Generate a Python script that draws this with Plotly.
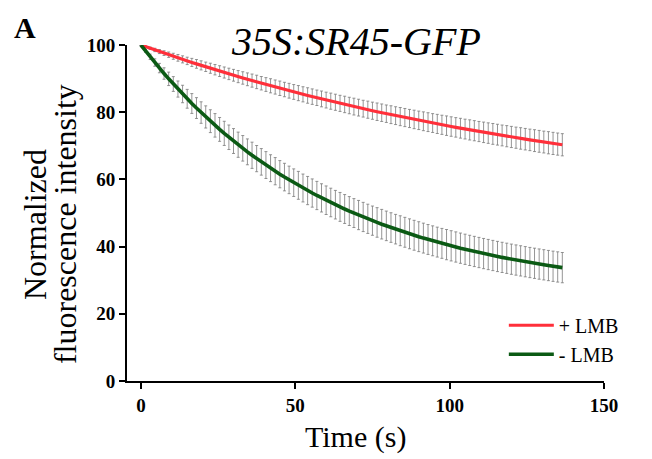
import plotly.graph_objects as go

# Time points (s)
time_s = [round(1.5 * k, 1) for k in range(92)]

# + LMB (red) mean values
plus_lmb = [100.0, 99.51, 99.02, 98.53, 98.05, 97.58, 97.11, 96.64, 96.18, 95.72,
            95.27, 94.82, 94.38, 93.94, 93.51, 93.08, 92.65, 92.23, 91.81, 91.40,
            90.99, 90.59, 90.19, 89.79, 89.40, 89.01, 88.62, 88.24, 87.86, 87.49,
            87.12, 86.75, 86.39, 86.03, 85.68, 85.32, 84.97, 84.63, 84.29, 83.95,
            83.61, 83.28, 82.96, 82.63, 82.31, 81.99, 81.67, 81.36, 81.05, 80.75,
            80.44, 80.14, 79.85, 79.55, 79.26, 78.97, 78.69, 78.41, 78.13, 77.85,
            77.58, 77.30, 77.04, 76.77, 76.51, 76.25, 75.99, 75.73, 75.48, 75.23,
            74.98, 74.73, 74.49, 74.25, 74.01, 73.78, 73.54, 73.31, 73.08, 72.86,
            72.63, 72.41, 72.19, 71.97, 71.76, 71.54, 71.33, 71.12, 70.91, 70.71,
            70.51, 70.31]
plus_err = [0, 0.2, 0.35, 0.5, 0.6, 0.7, 0.8, 0.9, 1.0, 1.05,
            1.1, 1.2, 1.3, 1.35, 1.4, 1.5, 1.55, 1.6, 1.65, 1.7,
            1.75, 1.8, 1.85, 1.9, 1.95, 2.0, 2.0, 2.05, 2.1, 2.1,
            2.15, 2.15, 2.2, 2.2, 2.25, 2.25, 2.3, 2.3, 2.3, 2.35,
            2.35, 2.4, 2.4, 2.4, 2.45, 2.45, 2.5, 2.5, 2.5, 2.55,
            2.55, 2.6, 2.6, 2.6, 2.65, 2.65, 2.7, 2.7, 2.7, 2.75,
            2.75, 2.8, 2.8, 2.8, 2.85, 2.85, 2.9, 2.9, 2.9, 2.95,
            2.95, 3.0, 3.0, 3.0, 3.05, 3.05, 3.1, 3.1, 3.1, 3.15,
            3.15, 3.15, 3.2, 3.2, 3.2, 3.25, 3.25, 3.25, 3.3, 3.3,
            3.3, 3.3]

# - LMB (green) mean values
minus_lmb = [100.0, 98.22, 96.48, 94.78, 93.13, 91.51, 89.93, 88.39, 86.89, 85.42,
             83.99, 82.59, 81.23, 79.89, 78.59, 77.33, 76.09, 74.88, 73.70, 72.54,
             71.42, 70.32, 69.25, 68.20, 67.18, 66.19, 65.22, 64.27, 63.34, 62.44,
             61.55, 60.69, 59.85, 59.03, 58.23, 57.44, 56.68, 55.94, 55.21, 54.50,
             53.80, 53.13, 52.47, 51.82, 51.19, 50.58, 49.98, 49.39, 48.82, 48.27,
             47.72, 47.19, 46.67, 46.17, 45.67, 45.19, 44.72, 44.26, 43.81, 43.37,
             42.95, 42.53, 42.12, 41.72, 41.34, 40.96, 40.59, 40.23, 39.88, 39.53,
             39.20, 38.87, 38.55, 38.24, 37.93, 37.64, 37.35, 37.06, 36.79, 36.52,
             36.25, 36.00, 35.75, 35.50, 35.26, 35.03, 34.80, 34.58, 34.36, 34.15,
             33.94, 33.74]
minus_err = [0, 0.4, 0.8, 1.1, 1.4, 1.7, 2.0, 2.2, 2.4, 2.6,
             2.8, 2.95, 3.1, 3.2, 3.3, 3.4, 3.5, 3.55, 3.6, 3.65,
             3.7, 3.75, 3.8, 3.85, 3.9, 3.9, 3.95, 4.0, 4.0, 4.05,
             4.05, 4.1, 4.1, 4.1, 4.15, 4.15, 4.2, 4.2, 4.2, 4.2,
             4.25, 4.25, 4.25, 4.3, 4.3, 4.3, 4.3, 4.35, 4.35, 4.35,
             4.35, 4.4, 4.4, 4.4, 4.4, 4.4, 4.45, 4.45, 4.45, 4.45,
             4.45, 4.45, 4.45, 4.45, 4.45, 4.45, 4.5, 4.5, 4.5, 4.5,
             4.5, 4.5, 4.5, 4.5, 4.5, 4.5, 4.5, 4.5, 4.5, 4.5,
             4.5, 4.5, 4.5, 4.5, 4.5, 4.5, 4.5, 4.5, 4.5, 4.5,
             4.5, 4.5]

x_ticks = [0, 50, 100, 150]
y_ticks = [0, 20, 40, 60, 80, 100]

RED = "#ff2f3a"
GREEN = "#0b5a14"
ERR = "#7a7a7a"
SERIF = "Liberation Serif"

fig = go.Figure()

# error bars (drawn beneath the lines)
for ys, es in [(plus_lmb, plus_err), (minus_lmb, minus_err)]:
    fig.add_trace(go.Scatter(
        x=time_s, y=ys, mode="markers", marker=dict(size=0.1, opacity=0),
        error_y=dict(type="data", array=es, visible=True, color=ERR,
                     thickness=0.8, width=1.5),
        showlegend=False, hoverinfo="skip"))

fig.add_trace(go.Scatter(x=time_s, y=plus_lmb, mode="lines", name="+ LMB",
                         line=dict(color=RED, width=3.2)))
fig.add_trace(go.Scatter(x=time_s, y=minus_lmb, mode="lines", name="- LMB",
                         line=dict(color=GREEN, width=3.6)))

axis_font = dict(family=SERIF, size=19, color="black", weight="bold")
fig.update_xaxes(range=[-4.5, 150], tickvals=x_ticks, ticks="outside", ticklen=6,
                 tickwidth=2, tickcolor="black", showline=True, linewidth=2,
                 linecolor="black", showgrid=False, zeroline=False,
                 tickfont=axis_font)
fig.update_yaxes(range=[0, 100], tickvals=y_ticks, ticks="outside", ticklen=6,
                 tickwidth=2, tickcolor="black", showline=True, linewidth=2,
                 linecolor="black", showgrid=False, zeroline=False,
                 tickfont=axis_font)

fig.update_layout(
    width=644, height=451,
    margin=dict(l=119, r=48, t=37, b=78),
    paper_bgcolor="white", plot_bgcolor="white",
    font=dict(family=SERIF, color="black"),
    legend=dict(x=0.79, y=0.224, xanchor="left", yanchor="top",
                font=dict(family=SERIF, size=20, color="black"),
                bgcolor="rgba(0,0,0,0)", itemwidth=45, tracegroupgap=0),
    annotations=[
        dict(text="<b>A</b>", x=-0.214, y=1.108, xref="paper", yref="paper",
             xanchor="center", yanchor="top", showarrow=False,
             font=dict(family=SERIF, size=30)),
        dict(text="<i>35S:SR45-GFP</i>", x=0.48, y=1.01, xref="paper", yref="paper",
             xanchor="center", yanchor="middle", showarrow=False,
             font=dict(family=SERIF, size=40)),
        dict(text="Time (s)", x=0.48, y=-0.167, xref="paper", yref="paper",
             xanchor="center", yanchor="middle", showarrow=False,
             font=dict(family=SERIF, size=30)),
        dict(text="Normalized", x=-0.193, y=0.467,
             xref="paper", yref="paper", xanchor="center", yanchor="middle",
             textangle=-90, showarrow=False,
             font=dict(family=SERIF, size=32)),
        dict(text="fluorescence intensity", x=-0.130, y=0.467,
             xref="paper", yref="paper", xanchor="center", yanchor="middle",
             textangle=-90, showarrow=False,
             font=dict(family=SERIF, size=32)),
    ],
)

fig.write_html("out.html")
